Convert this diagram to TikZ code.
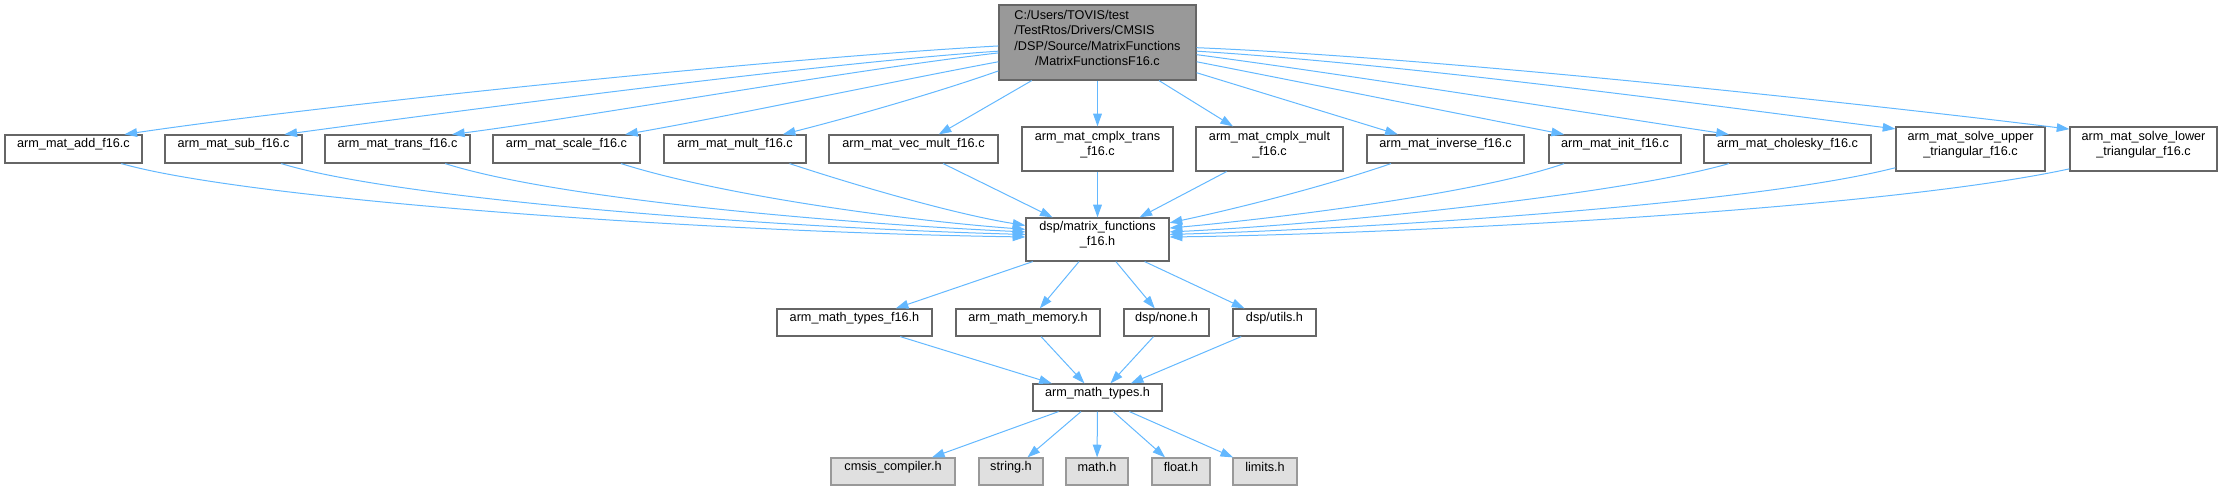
\documentclass[tikz,border=0pt]{standalone}
\usepackage{fontspec}
\setmainfont{Liberation Sans}
\usepackage{xcolor}
\usepackage{calc}
\usetikzlibrary{arrows.meta,fit}

\definecolor{edgeblue}{HTML}{63B8FF}
\definecolor{boxline}{HTML}{666666}
\definecolor{rootfill}{HTML}{999999}
\definecolor{extfill}{HTML}{E0E0E0}
\definecolor{extline}{HTML}{999999}

\begin{document}
\begin{tikzpicture}[
  x=0.75pt, y=-0.75pt,
  font=\fontsize{9.5}{11.5}\selectfont,
  n/.style={draw=boxline, line width=0.9pt, fill=white, inner sep=0pt,
            align=center},
  root/.style={n, fill=rootfill},
  ext/.style={n, draw=extline, fill=extfill},
  dep/.style={->, draw=edgeblue, line width=0.75pt},
  >={Triangle[length=9.5pt, width=6.5pt]}
]
\useasboundingbox (0,0) rectangle (2224,491);

% source file
\node[root, fit={(999,5) (1196,80)}] (src)
  {\makebox[\widthof{/DSP/Source/MatrixFunctions}][l]{C:/Users/TOVIS/test}\\
   \makebox[\widthof{/DSP/Source/MatrixFunctions}][l]{/TestRtos/Drivers/CMSIS}\\
   /DSP/Source/MatrixFunctions\\/MatrixFunctionsF16.c};

% included sources
\node[n, fit={(5,135) (142,163)}] (add) {arm\_mat\_add\_f16.c};
\node[n, fit={(165,135) (302,163)}] (sub) {arm\_mat\_sub\_f16.c};
\node[n, fit={(325,135) (470,163)}] (trans) {arm\_mat\_trans\_f16.c};
\node[n, fit={(493,135) (640,163)}] (scale) {arm\_mat\_scale\_f16.c};
\node[n, fit={(664,135) (806,163)}] (mult) {arm\_mat\_mult\_f16.c};
\node[n, fit={(829,135) (998,163)}] (vecmult) {arm\_mat\_vec\_mult\_f16.c};
\node[n, fit={(1022,127) (1173,171)}] (ctrans) {arm\_mat\_cmplx\_trans\\\_f16.c};
\node[n, fit={(1196,127) (1343,171)}] (cmult) {arm\_mat\_cmplx\_mult\\\_f16.c};
\node[n, fit={(1367,135) (1524,163)}] (inverse) {arm\_mat\_inverse\_f16.c};
\node[n, fit={(1549,135) (1681,163)}] (init) {arm\_mat\_init\_f16.c};
\node[n, fit={(1704,135) (1871,163)}] (chol) {arm\_mat\_cholesky\_f16.c};
\node[n, fit={(1896,127) (2045,171)}] (supper) {arm\_mat\_solve\_upper\\\_triangular\_f16.c};
\node[n, fit={(2070,127) (2217,171)}] (slower) {arm\_mat\_solve\_lower\\\_triangular\_f16.c};

% headers
\node[n, fit={(1026,218) (1169,261)}] (mf) {dsp/matrix\_functions\\\_f16.h};
\node[n, fit={(777,309) (932,336)}] (tf16) {arm\_math\_types\_f16.h};
\node[n, fit={(956,309) (1100,336)}] (mem) {arm\_math\_memory.h};
\node[n, fit={(1124,309) (1209,336)}] (none) {dsp/none.h};
\node[n, fit={(1233,309) (1316,336)}] (utils) {dsp/utils.h};
\node[n, fit={(1033,384) (1162,411)}] (types) {arm\_math\_types.h};

% system headers
\node[ext, fit={(831,458) (955,485)}] (cmsis) {cmsis\_compiler.h};
\node[ext, fit={(979,458) (1043,485)}] (string) {string.h};
\node[ext, fit={(1066,458) (1128,485)}] (math) {math.h};
\node[ext, fit={(1152,458) (1210,485)}] (float) {float.h};
\node[ext, fit={(1233,458) (1297,485)}] (limits) {limits.h};

% source -> files
\draw[dep] (src.182.6) .. controls (780,58) and (330,104) .. (add.16.8);
\draw[dep] (src.185) .. controls (820,63) and (450,112) .. (sub.16.1);
\draw[dep] (src.186.7) .. controls (850,70) and (580,118) .. (trans.15.5);
\draw[dep] (src.191.3) .. controls (900,80) and (720,118) .. (scale.14.7);
\draw[dep] (src.196.8) .. controls (930,95) and (840,120) .. (mult.17.3);
\draw[dep] (src) -- (vecmult);
\draw[dep] (src) -- (ctrans);
\draw[dep] (src) -- (cmult);
\draw[dep] (src) -- (inverse);
\draw[dep] (src.-11.3) .. controls (1300,82) and (1480,118) .. (init.164.4);
\draw[dep] (src.-7.8) .. controls (1350,75) and (1620,118) .. (chol.166.8);
\draw[dep] (src.-5.5) .. controls (1420,65) and (1760,112) .. (supper.165.7);
\draw[dep] (src.-3.2) .. controls (1450,58) and (1900,108) .. (slower.165.5);

% files -> matrix header
\draw[dep] (add.-17.8) .. controls (250,200) and (700,232) .. (mf.178.8);
\draw[dep] (sub.-17.5) .. controls (400,200) and (780,228) .. (mf.176.8);
\draw[dep] (trans.-17.1) .. controls (560,200) and (850,224) .. (mf.174.8);
\draw[dep] (scale.-15.2) .. controls (720,195) and (900,220) .. (mf.172.4);
\draw[dep] (mult.-15.1) .. controls (870,190) and (960,215) .. (mf.169.3);
\draw[dep] (vecmult) -- (mf);
\draw[dep] (ctrans) -- (mf);
\draw[dep] (cmult) -- (mf);
\draw[dep] (inverse.195.5) .. controls (1320,188) and (1230,210) .. (mf.13);
\draw[dep] (init.196.6) .. controls (1480,193) and (1280,218) .. (mf.9.1);
\draw[dep] (chol.194.4) .. controls (1620,195) and (1320,225) .. (mf.6.4);
\draw[dep] (supper.194.3) .. controls (1750,205) and (1360,229) .. (mf.4.4);
\draw[dep] (slower.195.2) .. controls (1880,210) and (1400,234) .. (mf.2);

% header chain
\draw[dep] (mf) -- (tf16);
\draw[dep] (mf) -- (mem);
\draw[dep] (mf) -- (none);
\draw[dep] (mf) -- (utils);
\draw[dep] (tf16) -- (types);
\draw[dep] (mem) -- (types);
\draw[dep] (none) -- (types);
\draw[dep] (utils) -- (types);
\draw[dep] (types) -- (cmsis);
\draw[dep] (types) -- (string);
\draw[dep] (types) -- (math);
\draw[dep] (types) -- (float);
\draw[dep] (types) -- (limits);
\end{tikzpicture}
\end{document}
